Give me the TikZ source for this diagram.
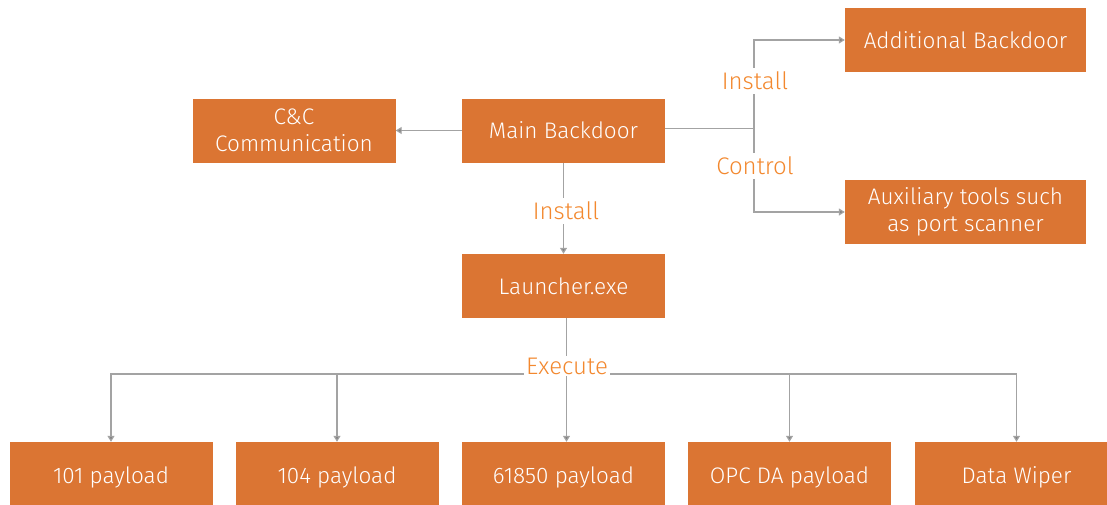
\documentclass[tikz,border=0pt]{standalone}
\usepackage{fontspec}
\setmainfont{Fira Sans}[UprightFont=* Light]
\usetikzlibrary{arrows.meta}
\definecolor{boxorange}{HTML}{DB7533}
\definecolor{labelorange}{HTML}{F3882E}
\definecolor{linegrey}{HTML}{A3A3A3}
\definecolor{tipgrey}{HTML}{7F7F7F}
\tikzset{
  block/.style={fill=boxorange, text=white, inner sep=0pt, align=center,
    minimum width=203pt, minimum height=64pt, font=\fontsize{22.5}{27}\selectfont},
  wideblock/.style={block, minimum width=241pt},
  lowblock/.style={block, minimum height=70pt},
  conn/.style={draw=linegrey, line width=1.2pt},
  arr/.style={conn, -{Triangle[width=7pt,length=6pt,fill=tipgrey]}},
  steplabel/.style={fill=white, text=labelorange, inner xsep=2pt, inner ysep=4pt,
    font=\fontsize{24}{28}\selectfont}
}
\begin{document}
\begin{tikzpicture}[x=1pt,y=1pt]
\useasboundingbox (0,0) rectangle (1107,-504);

% boxes
\node[wideblock] (addb) at (965.5,-40)  {Additional Backdoor};
\node[wideblock] (aux)  at (965.5,-212) {Auxiliary tools such\\as port scanner};
\node[block] (cnc)    at (294,-130.5)   {C\&C\\Communication};
\node[block] (main)   at (563.5,-130.5) {Main Backdoor};
\node[block] (launch) at (563.5,-286) {Launcher.exe};
\node[lowblock] (p101)   at (111,-477)   {101 payload};
\node[lowblock] (p104)   at (337,-477)   {104 payload};
\node[lowblock] (p61850) at (563.5,-477) {61850 payload};
\node[lowblock] (popc)   at (789.5,-477) {OPC DA payload};
\node[lowblock] (wiper)  at (1016.5,-477) {Data Wiper};

% junction points
\coordinate (split) at (754,-128.5);
\coordinate (bus) at (566.5,-374);

% connectors
\draw[arr] (main.west) -- (cnc.east);
\draw[conn] (main.east |- split) -- (split);
\draw[arr] (split) |- (addb.west);
\draw[arr] (split) |- (aux.west);
\draw[arr] (main.south) -- (launch.north);
\draw[arr] ([xshift=3pt]launch.south) -- ([xshift=3pt]p61850.north);
\draw[arr] (bus) -| (p101.north);
\draw[arr] (bus) -| (p104.north);
\draw[arr] (bus) -| (popc.north);
\draw[arr] (bus) -| (wiper.north);

% labels over the lines
\node[steplabel] (linstall) at (755,-81)  {Install};
\node[steplabel] (lcontrol) at (755,-166) {Control};
\node[steplabel] (minstall) at (566,-211) {Install};
\node[steplabel, inner ysep=2pt] (lexec) at (567,-366) {Execute};
\end{tikzpicture}
\end{document}
